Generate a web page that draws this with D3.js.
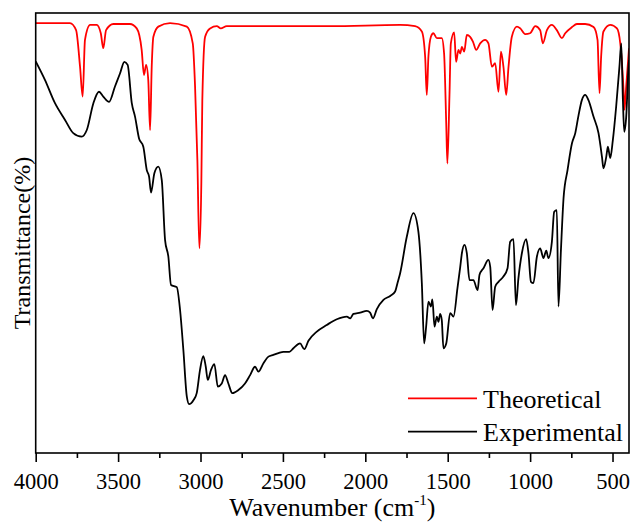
<!DOCTYPE html>
<html>
<head>
<meta charset="utf-8">
<script src="https://cdn.jsdelivr.net/npm/d3@7"></script>
<style>
  html, body { margin: 0; padding: 0; background: #fff; }
  svg { display: block; }
</style>
</head>
<body>
<svg id="chart" width="633" height="522"></svg>
<script>
// ---- Data (wavenumber cm^-1, transmittance arbitrary %) ----
const expWavenumber = [4000,3944,3883,3822,3772,3721,3690,3650,3616,3590,3555,3519,3488,3462,3442,3417,3397,3373,3347,3326,3312,3300,3280,3256,3235,3215,3195,3179,3144,3124,3104,3083,3069,3043,3023,3003,2983,2968,2956,2936,2916,2895,2871,2851,2831,2807,2770,2730,2699,2669,2649,2618,2588,2558,2527,2497,2461,2436,2396,2370,2345,2294,2234,2173,2112,2092,2072,2031,1991,1971,1954,1930,1890,1849,1819,1805,1789,1748,1708,1678,1657,1643,1631,1617,1602,1593,1580,1566,1556,1546,1536,1526,1509,1485,1465,1441,1424,1414,1398,1384,1368,1344,1319,1307,1283,1253,1242,1228,1212,1192,1162,1137,1121,1101,1086,1071,1050,1024,1010,995,980,959,939,919,902,889,868,854,838,828,813,797,773,746,726,706,686,666,646,615,585,564,555,538,528,514,498,478,458,447,437,429,417,403,400];
const expTransmittance = [89.0,84.8,79.5,75.7,72.7,71.9,73.4,79.5,82.1,81.0,79.8,83.3,86.3,88.9,88.2,79.5,76.4,71.5,69.6,64.3,62.8,59.2,63.6,65.1,62.0,48.4,44.6,38.2,37.7,32.5,23.4,12.8,11.1,12.0,13.6,18.9,22.0,19.6,16.6,18.9,20.2,15.1,15.8,17.7,15.8,13.6,14.3,15.8,17.7,19.6,18.5,20.4,21.9,22.3,22.7,23.0,23.0,23.8,24.9,23.6,25.5,27.6,29.1,30.4,31.0,30.6,31.6,31.9,32.3,31.9,30.6,32.7,34.8,35.7,36.7,38.6,40.8,49.2,54.5,50.3,38.6,24.9,28.7,34.4,33.3,34.9,28.7,31.0,29.8,31.6,30.2,23.8,24.9,31.8,31.0,37.4,42.3,45.4,47.3,45.4,39.3,39.3,37.0,40.5,42.0,43.9,42.3,32.5,37.8,38.9,40.1,42.0,48.0,48.6,33.6,39.7,45.4,48.6,45.4,38.9,38.6,44.6,46.5,44.3,46.0,44.3,48.0,54.8,55.2,33.3,46.1,58.0,64.3,70.4,72.7,76.8,80.2,81.4,80.2,76.4,72.7,67.3,64.7,67.3,69.6,67.0,71.1,78.7,87.8,93.1,80.2,73.0,76.4,87.8,89.3];

const theoWavenumber = [4000,3792,3755,3731,3715,3701,3670,3630,3605,3590,3573,3529,3428,3387,3357,3343,3330,3317,3306,3296,3286,3256,3185,3083,3047,3033,3019,3007,2995,2989,2972,2942,2901,2877,2841,2214,1789,1698,1657,1637,1627,1617,1602,1587,1566,1536,1522,1509,1502,1489,1481,1461,1449,1435,1424,1414,1400,1384,1364,1347,1327,1303,1273,1253,1232,1212,1192,1177,1162,1145,1131,1111,1080,1060,1030,1000,969,939,923,898,868,838,807,787,746,716,666,615,591,579,569,555,514,473,453,433,427,417,400];
const theoTransmittance = [97.7,97.7,96.1,87.8,81.0,93.9,97.3,97.3,95.4,92.0,96.1,97.5,97.5,96.5,91.6,85.9,88.2,84.8,73.4,87.8,94.6,96.9,97.7,96.9,93.1,83.3,66.6,46.5,61.3,80.2,94.6,96.5,97.0,96.5,97.0,97.0,97.3,97.0,95.8,90.1,81.4,90.1,94.6,95.4,94.3,94.3,90.8,74.9,65.8,81.8,93.1,95.6,88.9,91.6,90.8,92.3,91.2,95.0,94.6,93.5,91.6,93.1,93.9,93.1,87.8,88.6,82.1,91.2,87.8,81.4,87.8,94.6,96.9,96.5,95.2,95.4,97.0,96.1,93.1,96.1,97.3,96.1,94.3,95.4,96.8,97.5,97.5,96.8,93.9,81.8,90.1,95.8,97.3,96.5,93.1,82.5,78.0,83.3,92.0];

const xMajorTicks = [4000,3500,3000,2500,2000,1500,1000,500];
const xMinorTicks = [3750,3250,2750,2250,1750,1250,750];
const seriesNames = ["Theoretical","Experimental"];
const seriesColors = ["#ff0000","#000000"];

const FONT = "'Liberation Serif', 'Times New Roman', Times, 'DejaVu Serif', serif";

// ---- Layout ----
const svg = d3.select("#chart");
const mLeft = 35.7, mRight = 629, mTop = 13, mBottom = 453;

const x = d3.scaleLinear().domain([4000, 400]).range([mLeft, mRight]);
const y = d3.scaleLinear().domain([0, 100]).range([mBottom, mTop]);

svg.append("defs").append("clipPath").attr("id","clip")
  .append("rect").attr("x", mLeft).attr("y", mTop).attr("width", mRight-mLeft).attr("height", mBottom-mTop);

const line = d3.line().x(d => x(d[0])).y(d => y(d[1])).curve(d3.curveMonotoneX);

const expData = expWavenumber.map((w,i) => [w, expTransmittance[i]]);
const theoData = theoWavenumber.map((w,i) => [w, theoTransmittance[i]]);

const g = svg.append("g").attr("clip-path","url(#clip)");
g.append("path").datum(theoData).attr("d", line)
  .attr("fill","none").attr("stroke", seriesColors[0]).attr("stroke-width", 1.8).attr("stroke-linejoin","round");
g.append("path").datum(expData).attr("d", line)
  .attr("fill","none").attr("stroke", seriesColors[1]).attr("stroke-width", 1.8).attr("stroke-linejoin","round");

// Frame
svg.append("rect").attr("x", mLeft).attr("y", mTop).attr("width", mRight-mLeft).attr("height", mBottom-mTop)
  .attr("fill","none").attr("stroke","#000").attr("stroke-width",1.6);

// X axis
const xAxis = d3.axisBottom(x).tickValues(xMajorTicks).tickSize(9).tickPadding(4).tickFormat(d3.format("d"));
const ax = svg.append("g").attr("transform",`translate(0,${mBottom})`).call(xAxis)
  .attr("font-family", null).attr("font-size", null);
ax.select(".domain").remove();
ax.selectAll(".tick line").attr("stroke","#000").attr("stroke-width",1.6);
ax.selectAll(".tick text").style("font-family", FONT).style("font-size","22.5px").attr("fill","#000")
  .attr("dy", null).attr("y", 35.8);

const axm = svg.append("g").attr("transform",`translate(0,${mBottom})`)
  .call(d3.axisBottom(x).tickValues(xMinorTicks).tickSize(5).tickFormat(""));
axm.select(".domain").remove();
axm.selectAll(".tick line").attr("stroke","#000").attr("stroke-width",1.6);

// Axis titles
const xt = svg.append("text").attr("x", (mLeft+mRight)/2).attr("y", 516)
  .attr("text-anchor","middle").style("font-family", FONT).style("font-size","26px");
xt.append("tspan").text("Wavenumber (cm");
xt.append("tspan").text("-1").style("font-size","15px").attr("dy",-11);
xt.append("tspan").text(")").attr("dy",11);

svg.append("text").attr("transform","translate(29.5,243) rotate(-90)")
  .attr("text-anchor","middle").style("font-family", FONT).style("font-size","24px").text("Transmittance(%)");

// Legend
const legY = [398.3, 431.7];
seriesNames.forEach((name, i) => {
  svg.append("line").attr("x1",408).attr("x2",477).attr("y1",legY[i]).attr("y2",legY[i])
    .attr("stroke", seriesColors[i]).attr("stroke-width",1.8);
  svg.append("text").attr("x",483).attr("y",legY[i]+9.5)
    .style("font-family", FONT).style("font-size","26px").text(name);
});
</script>
</body>
</html>
